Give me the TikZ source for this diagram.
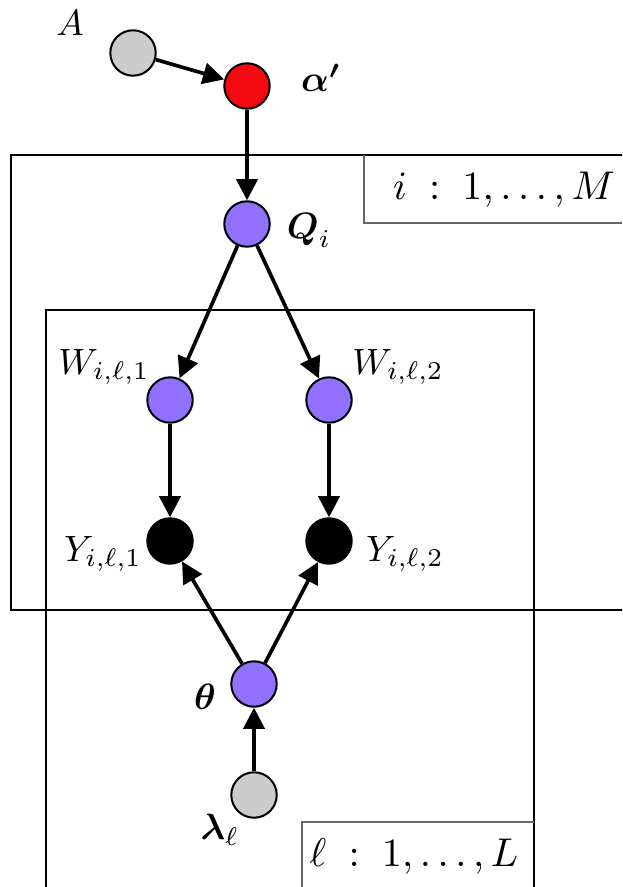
\documentclass[tikz,border=0pt]{standalone}
\usepackage{amsmath,amssymb}
\usetikzlibrary{arrows.meta}
\definecolor{nodepurple}{RGB}{145,112,255}
\definecolor{nodered}{RGB}{245,10,20}
\definecolor{nodegray}{RGB}{204,204,204}
\begin{document}
\begin{tikzpicture}[x=0.273pt,y=-0.273pt,
  var/.style={circle,draw,line width=0.55pt,minimum size=12.4pt,inner sep=0pt},
  latent/.style={var,fill=nodepurple},
  hyper/.style={var,fill=nodegray},
  obs/.style={var,fill=black},
  topnode/.style={var,fill=nodered},
  edge/.style={-{Triangle[length=5.8pt,width=5.8pt]},line width=1pt},
  plate/.style={line width=0.6pt},
  platelabel/.style={draw=black!60,line width=0.35pt},
  lbl/.style={inner sep=0pt},
  ptext/.style={inner sep=0pt,font=\fontsize{10.6}{13}\selectfont}]
\useasboundingbox (0,0) rectangle (622,887);
\clip (0,0) rectangle (622,887);
% plates
\draw[plate] (11,155) rectangle (640,610);
\draw[plate] (46,310) rectangle (534,900);
\draw[platelabel] (364,155) -- (364,223) -- (640,223);
\draw[platelabel] (302,900) -- (302,822) -- (534,822);
\node[ptext] (ilabel) at (504,190) {$i \;:\; 1,\ldots,M$};
\node[ptext] (llabel) at (414,856) {$\ell \;:\; 1,\ldots,L$};
% nodes
\node[hyper] (A) at (133,53) {};
\node[topnode] (alpha) at (247,86) {};
\node[latent] (Q) at (247,224) {};
\node[latent] (W1) at (170,400) {};
\node[latent] (W2) at (329,400) {};
\node[obs] (Y1) at (170,541) {};
\node[obs] (Y2) at (329,541) {};
\node[latent] (theta) at (254,684) {};
\node[hyper] (lambda) at (254,795) {};
% labels
\node[lbl] (tA) at (70,23) {$A$};
\node[lbl] (talpha) at (321,78) {$\boldsymbol{\alpha'}$};
\node[lbl] (tQ) at (309,230) {$\boldsymbol{Q}_i$};
\node[lbl] (tW1) at (104,367) {$W_{i,\ell,1}$};
\node[lbl] (tW2) at (398,367) {$W_{i,\ell,2}$};
\node[lbl] (tY1) at (103,554) {$Y_{i,\ell,1}$};
\node[lbl] (tY2) at (405,554) {$Y_{i,\ell,2}$};
\node[lbl] (ttheta) at (205,697) {$\boldsymbol{\theta}$};
\node[lbl] (tlambda) at (220,830) {$\boldsymbol{\lambda}_\ell$};
% edges
\draw[edge] (A) -- (alpha);
\draw[edge] (alpha) -- (Q);
\draw[edge] (Q) -- (W1);
\draw[edge] (Q) -- (W2);
\draw[edge] (W1) -- (Y1);
\draw[edge] (W2) -- (Y2);
\draw[edge] (theta) -- (Y1);
\draw[edge] (theta) -- (Y2);
\draw[edge] (lambda) -- (theta);
\end{tikzpicture}
\end{document}
